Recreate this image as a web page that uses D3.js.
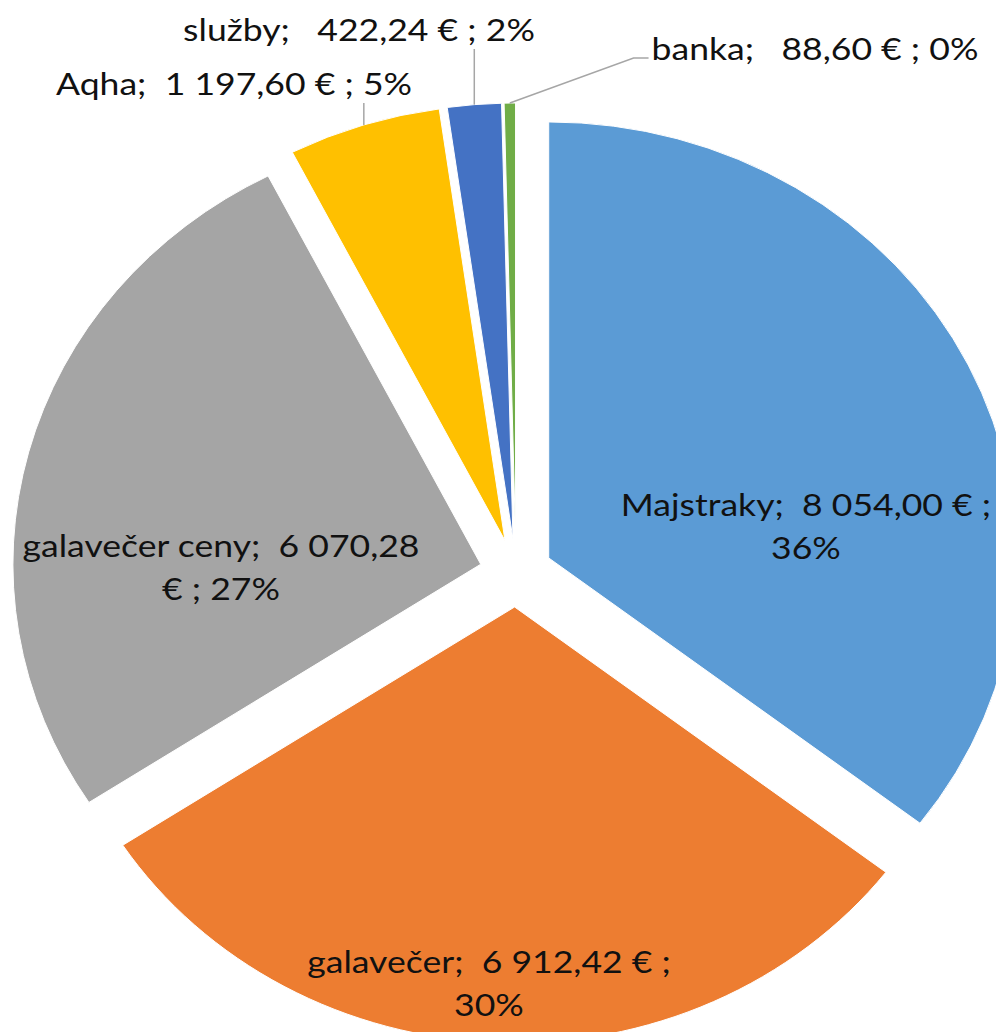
<!DOCTYPE html>
<html>
<head>
<meta charset="utf-8">
<script src="https://cdn.jsdelivr.net/npm/d3@7"></script>
<style>
  html, body { margin: 0; padding: 0; background: #ffffff; }
  svg { display: block; }
  text { white-space: pre; }
</style>
</head>
<body>
<div id="chart"></div>
<script>
// ---- data ----
const categories = ["Majstraky", "galavečer", "galavečer ceny", "Aqha", "služby", "banka"];
const values = [8054.00, 6912.42, 6070.28, 1197.60, 422.24, 88.60];
const percentLabels = ["36%", "30%", "27%", "5%", "2%", "0%"];

// ---- styles / layout ----
const colors = ["#5B9BD5", "#ED7D31", "#A5A5A5", "#FFC000", "#4472C4", "#70AD47"];
// label anchors (centre x, first baseline y) and leader type
const labelLayout = [
  { x: 806, y: 516, leader: null },
  { x: 489, y: 973, leader: null },
  { x: 221, y: 557, leader: null },
  { x: 234, y: 95,  leader: "vertical" },
  { x: 359, y: 41,  leader: "vertical" },
  { x: 815, y: 60,  leader: "elbow" }
];

const W = 996, H = 1032;
const cx = 516, cy = 573, R = 436, explode = 34, sx = 1.073;
const textSx = 1.13;
const lineH = 43, wrapW = 412, fontSize = 31.5;

const svg = d3.select("#chart").append("svg")
  .attr("width", W).attr("height", H)
  .attr("viewBox", `0 0 ${W} ${H}`);

const fmtLocale = d3.formatLocale({ decimal: ",", thousands: " ", grouping: [3], currency: ["", " €"] });
const fmt = fmtLocale.format(",.2f");

const pie = d3.pie().sort(null).value(d => d);
const arcs = pie(values);
const arc = d3.arc().innerRadius(0).outerRadius(R);

const g = svg.append("g").attr("transform", `translate(${cx},${cy}) scale(${sx},1)`);

g.selectAll("path.slice")
  .data(arcs)
  .join("path")
  .attr("class", "slice")
  .attr("d", arc)
  .attr("fill", (d, i) => colors[i])
  .attr("stroke", "#ffffff")
  .attr("stroke-width", 1)
  .attr("vector-effect", "non-scaling-stroke")
  .attr("transform", d => {
    const m = (d.startAngle + d.endAngle) / 2;
    return `translate(${Math.sin(m) * explode},${-Math.cos(m) * explode})`;
  });

// ---- labels ----
const labelsG = svg.append("g")
  .attr("font-family", "Lato, 'Open Sans', sans-serif")
  .attr("font-size", fontSize)
  .attr("fill", "#111111");

const leadersG = svg.append("g")
  .attr("fill", "none")
  .attr("stroke", "#A6A6A6")
  .attr("stroke-width", 1.5);

arcs.forEach((d, i) => {
  const pad = values[i] < 1000 ? "   " : "  ";
  const full = `${categories[i]};${pad}${fmt(values[i])} € ; ${percentLabels[i]}`;
  const L = labelLayout[i];

  const t = labelsG.append("text")
    .attr("text-anchor", "middle")
    .attr("transform", `translate(${L.x},${L.y}) scale(${textSx},1)`);

  const words = [];
  const re = /(\S+)(\s*)/g;
  let m;
  while ((m = re.exec(full)) !== null) words.push({ w: m[1], s: m[2] });

  const probe = t.append("tspan").attr("x", 0).attr("dy", 0);
  const lines = [];
  let cur = "";
  words.forEach(wd => {
    const trial = cur + wd.w;
    probe.text(trial);
    if (cur !== "" && probe.node().getComputedTextLength() * textSx > wrapW) {
      lines.push(cur.trimEnd());
      cur = wd.w + wd.s;
    } else {
      cur = trial + wd.s;
    }
  });
  if (cur.trim() !== "") lines.push(cur.trimEnd());
  probe.remove();

  lines.forEach((ln, k) => {
    t.append("tspan").attr("x", 0).attr("y", k * lineH).text(ln);
  });

  if (L.leader) {
    const mid = (d.startAngle + d.endAngle) / 2;
    const px = cx + sx * Math.sin(mid) * (R + explode);
    const py = cy - Math.cos(mid) * (R + explode);
    if (L.leader === "vertical") {
      leadersG.append("path").attr("d", `M${px},${py}V${L.y + 8}`);
    } else {
      const bb = t.node().getBBox();
      const left = L.x - bb.width * textSx / 2;
      leadersG.append("path").attr("d", `M${px},${py}L${left - 18},${L.y - 2}H${left - 3}`);
    }
  }
});
</script>
</body>
</html>
